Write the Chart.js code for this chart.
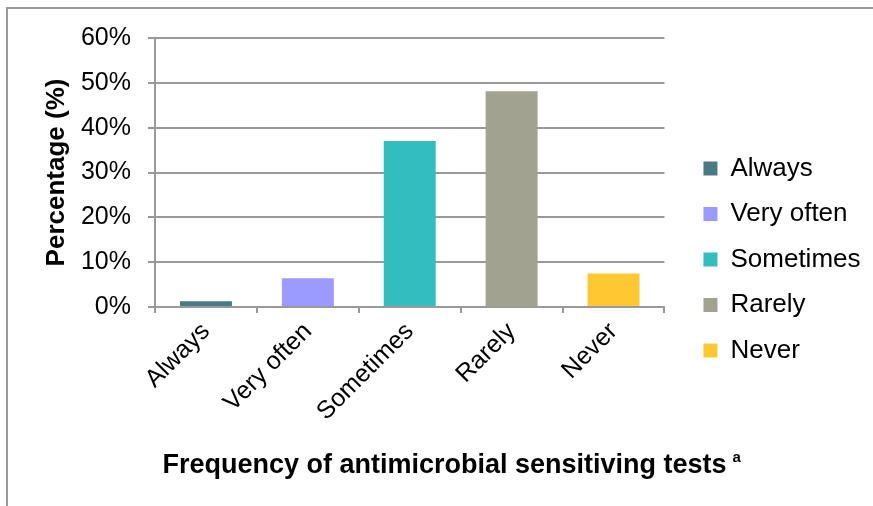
<!DOCTYPE html>
<html>
<head>
<meta charset="utf-8">
<script src="https://cdn.jsdelivr.net/npm/chart.js@4.4.1/dist/chart.umd.min.js"></script>
<style>
  html, body { margin: 0; padding: 0; background: #fff; }
  #wrap { position: relative; width: 873px; height: 506px; overflow: hidden; background: #fff; }
  #frame { position: absolute; left: 6px; top: 7px; width: 900px; height: 540px;
           border-top: 2px solid #9a9a9a; border-left: 2px solid #9a9a9a; }
  #c { position: absolute; left: 0; top: 0; }
</style>
</head>
<body>
<div id="wrap">
  <div id="frame"></div>
  <canvas id="c" width="873" height="506"></canvas>
</div>
<script>
// Survey answers: how often antimicrobial sensitivity tests are requested
const categories = ['Always', 'Very often', 'Sometimes', 'Rarely', 'Never'];
const percentages = [1.3, 6.4, 37.0, 48.1, 7.5];
const barColors = ['#4a7a86', '#9b9bff', '#33bdbf', '#a1a28f', '#ffc832'];
const yTicks = [0, 10, 20, 30, 40, 50, 60];
const yAxisTitle = 'Percentage (%)';
const xAxisTitle = 'Frequency of antimicrobial sensitiving tests';
const xAxisNote = 'a';

const FONT = '"Liberation Sans", Arial, Helvetica, sans-serif';
const LINE = '#999999';

// Bold axis caption under the category labels, with its footnote marker
const xCaption = {
  id: 'xCaption',
  afterDraw(chart) {
    const ctx = chart.ctx;
    ctx.save();
    ctx.fillStyle = '#000';
    ctx.textAlign = 'left';
    ctx.textBaseline = 'alphabetic';
    ctx.font = 'bold 27px ' + FONT;
    const w = ctx.measureText(xAxisTitle).width;
    const x0 = chart.width / 2 + 8 - w / 2;
    const base = chart.chartArea.bottom + 166;
    ctx.fillText(xAxisTitle, x0, base);
    ctx.font = 'bold 15px ' + FONT;
    ctx.fillText(xAxisNote, x0 + w + 6, base - 11);
    ctx.restore();
  }
};

new Chart(document.getElementById('c'), {
  type: 'bar',
  data: {
    labels: categories,
    datasets: [{
      data: percentages,
      backgroundColor: barColors,
      borderWidth: 0,
      categoryPercentage: 1,
      barPercentage: 0.51
    }]
  },
  options: {
    responsive: false,
    devicePixelRatio: 1,
    animation: false,
    layout: { padding: { top: 38, bottom: 25, left: 0, right: 2.5 } },
    plugins: {
      tooltip: { enabled: false },
      legend: {
        position: 'right',
        labels: {
          color: '#000',
          font: { family: FONT, size: 26 },
          boxWidth: 14,
          boxHeight: 14,
          padding: 19.5,
          generateLabels() {
            return categories.map((c, i) => ({
              text: c,
              fillStyle: barColors[i],
              strokeStyle: barColors[i],
              lineWidth: 0,
              hidden: false,
              index: i
            }));
          }
        }
      }
    },
    scales: {
      x: {
        grid: { display: true, drawOnChartArea: false, drawTicks: true, tickLength: 6,
                color: LINE, lineWidth: 2, offset: true },
        border: { display: true, color: LINE, width: 2 },
        ticks: {
          color: '#000',
          font: { family: FONT, size: 25 },
          minRotation: 45, maxRotation: 45,
          padding: 4,
          autoSkip: false
        },
        afterFit(scale) { scale.height = 174; }
      },
      y: {
        min: 0, max: 60,
        afterBuildTicks(scale) { scale.ticks = yTicks.map(v => ({ value: v })); },
        grid: { color: LINE, lineWidth: 2, tickLength: 7, drawTicks: true },
        border: { display: true, color: LINE, width: 2 },
        ticks: {
          color: '#000',
          font: { family: FONT, size: 25 },
          padding: 17,
          callback: v => v + '%'
        },
        title: {
          display: true,
          text: yAxisTitle,
          color: '#000',
          font: { family: FONT, size: 26, weight: 'bold' },
          padding: { top: 41, bottom: 0 }
        },
        afterFit(scale) { scale.width = 155; }
      },
      gap: {
        position: 'right',
        display: false,
        afterFit(scale) { scale.width = 19.5; }
      }
    }
  },
  plugins: [xCaption]
});
</script>
</body>
</html>
